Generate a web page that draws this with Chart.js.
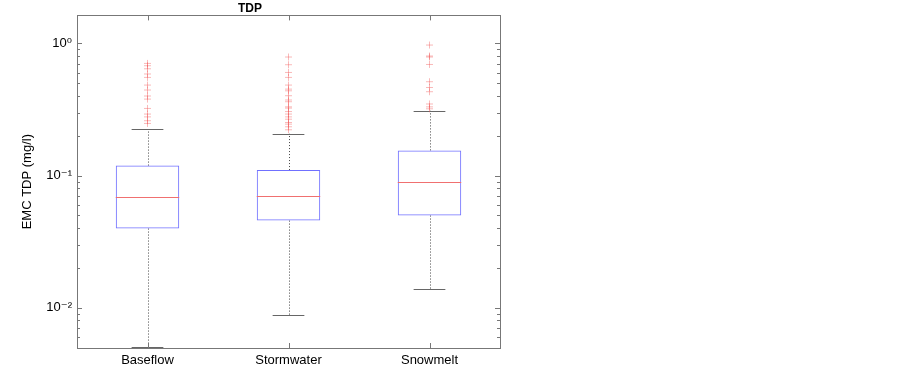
<!DOCTYPE html>
<html>
<head>
<meta charset="utf-8">
<script src="https://cdn.jsdelivr.net/npm/chart.js@4"></script>
<style>
  html, body { margin: 0; padding: 0; background: #fff; }
  #wrap { width: 903px; height: 370px; position: relative; }
</style>
</head>
<body>
<div id="wrap"><canvas id="boxChart"></canvas></div>
<script>
const categories = ['Baseflow', 'Stormwater', 'Snowmelt'];
const q1 = [0.0397, 0.0456, 0.0498];
const medians = [0.0693, 0.0705, 0.0896];
const q3 = [0.119, 0.110, 0.155];
const whiskerLow = [0.0050, 0.00885, 0.0138];
const whiskerHigh = [0.225, 0.207, 0.309];
const outliersBaseflow = [0.706, 0.678, 0.643, 0.587, 0.553, 0.484, 0.444, 0.400, 0.379, 0.322, 0.292, 0.278, 0.260, 0.248];
const outliersStormwater = [0.789, 0.690, 0.603, 0.553, 0.484, 0.451, 0.438, 0.402, 0.373, 0.362, 0.331, 0.324, 0.305, 0.292, 0.278, 0.267, 0.252, 0.245, 0.234, 0.222];
const outliersSnowmelt = [0.972, 0.803, 0.789, 0.693, 0.513, 0.464, 0.431, 0.348, 0.331, 0.320];
const yMin = 0.00495;
const yMax = 1.63;

const outlierPoints = [];
[outliersBaseflow, outliersStormwater, outliersSnowmelt].forEach((arr, i) => {
  arr.forEach(v => outlierPoints.push({ x: categories[i], y: v }));
});

const supers = { '0': '\u2070', '1': '\u00b9', '2': '\u00b2', '-': '\u207b' };
function powLabel(exp) {
  return '10' + String(exp).split('').map(c => supers[c]).join('');
}

const boxParts = {
  id: 'boxParts',
  beforeDatasetsDraw(chart) {
    const ctx = chart.ctx;
    const x = chart.scales.x, y = chart.scales.y;
    const bars = chart.getDatasetMeta(0).data;
    ctx.save();
    categories.forEach((c, i) => {
      const cx = x.getPixelForValue(i);
      const half = bars[i].width / 4;
      // dotted whiskers
      ctx.strokeStyle = '#444';
      ctx.lineWidth = 1;
      ctx.setLineDash([1, 2]);
      ctx.beginPath();
      ctx.moveTo(Math.round(cx) + 0.5, y.getPixelForValue(q3[i]));
      ctx.lineTo(Math.round(cx) + 0.5, y.getPixelForValue(whiskerHigh[i]));
      ctx.moveTo(Math.round(cx) + 0.5, y.getPixelForValue(q1[i]));
      ctx.lineTo(Math.round(cx) + 0.5, y.getPixelForValue(whiskerLow[i]));
      ctx.stroke();
      // caps
      ctx.setLineDash([]);
      ctx.strokeStyle = '#666';
      ctx.beginPath();
      [whiskerHigh[i], whiskerLow[i]].forEach(v => {
        const py = Math.round(y.getPixelForValue(v)) + 0.5;
        ctx.moveTo(cx - half, py);
        ctx.lineTo(cx + half, py);
      });
      ctx.stroke();
    });
    ctx.restore();
  },
  afterDatasetsDraw(chart) {
    const ctx = chart.ctx;
    const x = chart.scales.x, y = chart.scales.y;
    const a = chart.chartArea;
    const bars = chart.getDatasetMeta(0).data;
    ctx.save();
    // medians
    ctx.strokeStyle = '#f07070';
    ctx.lineWidth = 1;
    categories.forEach((c, i) => {
      const cx = x.getPixelForValue(i);
      const hw = bars[i].width / 2;
      const py = Math.round(y.getPixelForValue(medians[i])) + 0.5;
      ctx.beginPath();
      ctx.moveTo(cx - hw, py);
      ctx.lineTo(cx + hw, py);
      ctx.stroke();
    });
    // frame
    ctx.strokeStyle = '#777';
    ctx.strokeRect(Math.round(a.left) + 0.5, Math.round(a.top) + 0.5,
      Math.round(a.right - a.left), Math.round(a.bottom - a.top));
    // inward y ticks on both sides
    ctx.beginPath();
    y.ticks.forEach(t => {
      const v = t.value;
      const e = Math.floor(Math.log10(v) + 1e-9);
      const m = v / Math.pow(10, e);
      if (Math.abs(m - Math.round(m)) > 1e-6) return;
      const len = Math.round(m) === 1 ? 5 : 3;
      const py = Math.round(y.getPixelForValue(v)) + 0.5;
      if (py < a.top || py > a.bottom) return;
      ctx.moveTo(a.left, py); ctx.lineTo(a.left + len, py);
      ctx.moveTo(a.right, py); ctx.lineTo(a.right - len, py);
    });
    // inward x ticks top and bottom
    categories.forEach((c, i) => {
      const px = Math.round(x.getPixelForValue(i)) + 0.5;
      ctx.moveTo(px, a.bottom); ctx.lineTo(px, a.bottom - 5);
      ctx.moveTo(px, a.top); ctx.lineTo(px, a.top + 5);
    });
    ctx.stroke();
    ctx.restore();
  }
};

const fontFamily = '"Liberation Sans", Arial, "DejaVu Sans", sans-serif';

new Chart(document.getElementById('boxChart').getContext('2d'), {
  type: 'bar',
  data: {
    labels: categories,
    datasets: [{
      label: 'IQR',
      data: q1.map((v, i) => [v, q3[i]]),
      backgroundColor: 'rgba(0,0,0,0)',
      borderColor: '#7070ff',
      borderWidth: 1,
      borderSkipped: false,
      barPercentage: 0.45,
      categoryPercentage: 1
    }, {
      type: 'line',
      label: 'Outliers',
      data: outlierPoints,
      showLine: false,
      pointStyle: 'cross',
      pointRadius: 3.5,
      pointBorderWidth: 1,
      borderColor: 'rgba(240,80,80,0.4)',
      backgroundColor: 'rgba(240,80,80,0.4)'
    }]
  },
  options: {
    responsive: true,
    maintainAspectRatio: false,
    animation: false,
    layout: { padding: { left: 0, right: 403, top: 0, bottom: 0 } },
    plugins: {
      legend: { display: false },
      tooltip: { enabled: false },
      title: {
        display: true,
        text: 'TDP',
        color: '#000',
        font: { family: fontFamily, size: 12, weight: 'bold' },
        padding: { top: 1, bottom: 0 }
      }
    },
    scales: {
      x: {
        type: 'category',
        offset: true,
        grid: { display: false, drawTicks: false },
        border: { display: false },
        ticks: { color: '#000', padding: 5, font: { family: fontFamily, size: 13 } },
        afterFit(scale) { scale.height = 22; }
      },
      y: {
        type: 'logarithmic',
        min: yMin,
        max: yMax,
        grid: { display: false, drawTicks: false },
        border: { display: false },
        title: {
          display: true,
          text: 'EMC TDP (mg/l)',
          color: '#000',
          font: { family: fontFamily, size: 13 },
          padding: { top: 20, bottom: 0 }
        },
        ticks: {
          color: '#000',
          padding: 5,
          autoSkip: false,
          font: { family: fontFamily, size: 13 },
          callback(value) {
            const e = Math.log10(value);
            if (Math.abs(e - Math.round(e)) < 1e-9) return powLabel(Math.round(e));
            return '';
          }
        },
        afterFit(scale) { scale.width = 77; }
      }
    }
  },
  plugins: [boxParts]
});
</script>
</body>
</html>
